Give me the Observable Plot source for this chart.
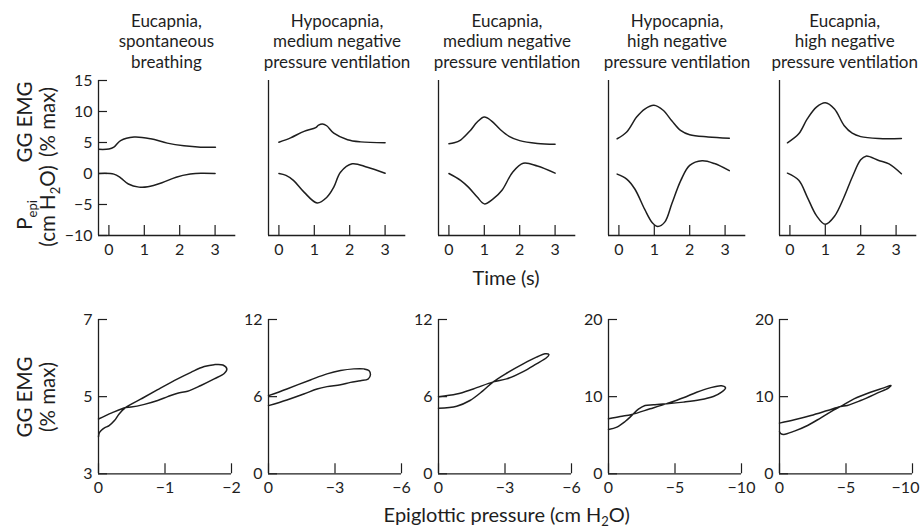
<!DOCTYPE html>
<html><head><meta charset="utf-8">
<script src="https://cdn.jsdelivr.net/npm/d3@7"></script>
<script src="https://cdn.jsdelivr.net/npm/@observablehq/plot@0.6"></script>
<style>
body{margin:0;background:#fff;}
#chart{position:relative;width:920px;height:530px;font-family:Lato,sans-serif;color:#222;}
#chart svg{position:absolute;}
</style></head><body><div id="chart"></div>
<script>
// ---------- data ----------
const titles = [
  ["Eucapnia,", "spontaneous", "breathing"],
  ["Hypocapnia,", "medium negative", "pressure ventilation"],
  ["Eucapnia,", "medium negative", "pressure ventilation"],
  ["Hypocapnia,", "high negative", "pressure ventilation"],
  ["Eucapnia,", "high negative", "pressure ventilation"]
];
const timeTicks = [0, 1, 2, 3];
const topValueTicks = [-10, -5, 0, 5, 10, 15];
const topTimeDomain = [-0.294, 3.585];
const topValueDomain = [-10, 15];

// GG EMG (% max) vs time (s)
const emg1 = [[-0.29,3.9],[0.0,3.95],[0.14,4.25],[0.33,5.3],[0.71,5.87],[1.18,5.6],[1.65,4.9],[2.12,4.47],[2.59,4.25],[3.01,4.25]];
const emg2 = [[0,5.05],[0.33,5.75],[0.71,6.8],[1.04,7.4],[1.12,7.8],[1.23,8.0],[1.35,7.7],[1.55,6.5],[1.94,5.45],[2.31,5.1],[3.0,4.95]];
const emg3 = [[0,4.8],[0.15,4.95],[0.33,5.4],[0.6,6.9],[0.8,8.3],[1.0,9.1],[1.2,8.5],[1.45,7.1],[1.7,6.0],[2.0,5.3],[2.5,4.85],[3.0,4.7]];
const emg4 = [[-0.05,5.6],[0.22,6.7],[0.5,9.1],[0.73,10.4],[0.99,11.0],[1.25,10.2],[1.5,8.45],[1.74,6.95],[2.0,6.25],[2.52,5.9],[3.12,5.7]];
const emg5 = [[-0.07,4.95],[0.25,6.4],[0.49,8.8],[0.75,10.7],[1.0,11.4],[1.26,10.4],[1.53,7.75],[1.76,6.5],[2.0,5.95],[2.51,5.65],[3.15,5.65]];
// Epiglottic pressure (cm H2O) vs time (s)
const pepi1 = [[-0.29,0],[0.14,-0.1],[0.33,-0.7],[0.55,-1.7],[0.85,-2.2],[1.1,-2.15],[1.5,-1.5],[1.9,-0.6],[2.3,-0.1],[2.6,0.05],[3.0,0.0]];
const pepi2 = [[0,0],[0.2,-0.3],[0.41,-1.1],[0.71,-3.0],[1.08,-4.75],[1.36,-3.8],[1.55,-2.2],[1.74,0.2],[2.07,1.56],[2.5,1.0],[3.0,0.05]];
const pepi3 = [[0,0],[0.33,-1.1],[0.55,-2.2],[0.8,-3.8],[1.0,-4.9],[1.25,-4.1],[1.5,-2.7],[1.8,0.2],[2.1,1.65],[2.5,1.2],[3.0,0.05]];
const pepi4 = [[-0.05,-0.1],[0.22,-0.9],[0.45,-2.5],[0.73,-5.8],[0.95,-8.0],[1.1,-8.55],[1.3,-7.8],[1.5,-4.8],[1.75,-1.1],[2.0,1.3],[2.35,2.05],[2.7,1.6],[3.12,0.45]];
const pepi5 = [[-0.07,0.05],[0.25,-1.1],[0.49,-3.8],[0.75,-6.8],[1.0,-8.2],[1.26,-6.9],[1.53,-3.8],[1.76,-0.6],[2.0,2.2],[2.15,2.8],[2.51,2.1],[2.8,1.55],[3.15,-0.05]];
const topEMG = [emg1, emg2, emg3, emg4, emg5];
const topPepi = [pepi1, pepi2, pepi3, pepi4, pepi5];

// GG EMG (% max) vs epiglottic pressure (cm H2O) loops
const loopXDomains = [[0,-2],[0,-6],[0,-6],[0,-10],[0,-10]];
const loopYDomains = [[3,7],[0,12],[0,12],[0,20],[0,20]];
const loopXTicks = [[0,-1,-2],[0,-3,-6],[0,-3,-6],[0,-5,-10],[0,-5,-10]];
const loopYTicks = [[3,5,7],[0,6,12],[0,6,12],[0,10,20],[0,10,20]];
const loop1 = [[0,3.96],[-0.01,4.05],[-0.04,4.12],[-0.09,4.19],[-0.16,4.25],[-0.24,4.38],[-0.31,4.55],[-0.41,4.72],[-0.64,4.94],[-0.89,5.18],[-1.19,5.46],[-1.39,5.63],[-1.59,5.78],[-1.74,5.83],[-1.87,5.82],[-1.93,5.72],[-1.89,5.6],[-1.74,5.46],[-1.54,5.29],[-1.34,5.14],[-1.19,5.09],[-1.04,5.0],[-0.89,4.9],[-0.69,4.8],[-0.49,4.73],[-0.41,4.72],[-0.2,4.58],[0,4.42]];
const loop2 = [[0,6.08],[-0.83,6.6],[-1.89,7.3],[-2.64,7.77],[-3.25,8.03],[-3.85,8.16],[-4.3,8.16],[-4.53,8.03],[-4.6,7.7],[-4.49,7.37],[-4.15,7.24],[-3.7,7.11],[-3.25,6.93],[-2.64,6.78],[-2.19,6.6],[-1.59,6.2],[-0.83,5.74],[0,5.3]];
const loop3 = [[0,5.1],[-0.82,5.26],[-1.42,5.7],[-2.0,6.45],[-2.47,7.15],[-3.07,7.82],[-3.82,8.55],[-4.42,9.07],[-4.8,9.33],[-4.98,9.27],[-4.87,9.02],[-4.42,8.55],[-3.82,7.95],[-3.07,7.38],[-2.47,7.15],[-1.57,6.6],[-0.82,6.2],[0,6.0]];
const loop4 = [[0,5.75],[-0.63,6.05],[-1.25,6.78],[-1.75,7.56],[-2.25,8.38],[-2.75,8.86],[-3.38,8.94],[-4.38,9.07],[-5.63,9.29],[-6.88,9.59],[-7.88,10.02],[-8.5,10.58],[-8.8,11.14],[-8.5,11.4],[-7.63,11.14],[-6.63,10.58],[-5.63,9.85],[-4.38,9.1],[-3.13,8.42],[-1.75,7.69],[-0.88,7.43],[0,7.13]];
const loop5 = [[0,5.45],[-0.1,5.2],[-0.32,5.1],[-1.12,5.53],[-2.11,6.26],[-3.11,7.26],[-4.1,8.29],[-4.6,8.73],[-5.6,9.72],[-6.84,10.58],[-7.84,11.14],[-8.38,11.45],[-8.21,11.14],[-7.34,10.45],[-6.1,9.5],[-5.1,8.86],[-4.6,8.73],[-3.61,8.21],[-2.36,7.56],[-1.12,7.0],[0,6.57]];
const loops = [loop1, loop2, loop3, loop4, loop5];

// ---------- layout / style ----------
const INK = "#1e1e1e";
const FONT = "Lato, sans-serif";
const chart = document.getElementById("chart");
const AX = [97.7, 268.3, 438.3, 608.3, 779];
const M = {l: 40, r: 14, t: 10, b: 34};
const fmt = d3.format("d");

function panel({xDomain, yDomain, xTicks, yTicks, showY, lines, left, top, fw, fh, lastDx = 0}) {
  const axisOpts = {tickSize: 0, tickPadding: 8, tickFormat: fmt, label: null};
  const svg = Plot.plot({
    width: fw + M.l + M.r, height: fh + M.t + M.b,
    marginLeft: M.l, marginRight: M.r, marginTop: M.t, marginBottom: M.b,
    style: {background: "transparent", fontFamily: FONT, fontSize: "16px", color: INK, overflow: "visible"},
    x: {domain: xDomain},
    y: {domain: yDomain, ticks: yTicks, tickSize: 0, tickPadding: 6, tickFormat: fmt, label: null, axis: showY ? "left" : null},
    marks: [
      Plot.axisX({...axisOpts, ticks: xTicks.slice(0, -1)}),
      Plot.axisX({...axisOpts, ticks: xTicks.slice(-1), dx: lastDx}),
      Plot.ruleX([xDomain[0]], {stroke: INK, strokeWidth: 1.3}),
      Plot.ruleY([yDomain[0]], {stroke: INK, strokeWidth: 1.3}),
      Plot.tickX(xTicks, {x: d => d, insetTop: fh - 10, stroke: INK, strokeWidth: 1.2}),
      showY ? Plot.tickY(yTicks, {y: d => d, insetRight: fw - 9, stroke: INK, strokeWidth: 1.2}) : null,
      ...lines.map(d => Plot.line(d, {curve: "catmull-rom", stroke: INK, strokeWidth: 1.5}))
    ]
  });
  svg.style.left = (left - M.l) + "px";
  svg.style.top = (top - M.t) + "px";
  chart.appendChild(svg);
}

for (let i = 0; i < 5; i++) {
  panel({xDomain: topTimeDomain, yDomain: topValueDomain, xTicks: timeTicks, yTicks: topValueTicks,
    showY: i === 0, lines: [topEMG[i], topPepi[i]], left: AX[i], top: 80, fw: 137.3, fh: 155});
  panel({xDomain: loopXDomains[i], yDomain: loopYDomains[i], xTicks: loopXTicks[i], yTicks: loopYTicks[i],
    showY: true, lines: [loops[i]], left: AX[i], top: 319, fw: 133, fh: 154.3, lastDx: i === 4 ? -7 : 0});
}

// ---------- titles and axis labels ----------
const ov = d3.create("svg").attr("width", 920).attr("height", 530)
  .style("left", "0px").style("top", "0px")
  .attr("font-family", FONT).attr("fill", INK);

titles.forEach((lines, i) => {
  const cx = AX[i] + 68.7 - (i === 4 ? 3 : 0);
  lines.forEach((s, j) => {
    ov.append("text").attr("x", cx).attr("y", 26.7 + j * 20.7)
      .attr("text-anchor", "middle").attr("font-size", 17).text(s);
  });
});

function rotLabel(x, y, build) {
  const t = ov.append("text").attr("transform", `translate(${x},${y}) rotate(-90)`)
    .attr("text-anchor", "middle").attr("font-size", 20.5);
  build(t);
}
// top row y labels
rotLabel(32, 122, t => t.text("GG EMG"));
rotLabel(55, 122, t => t.text("(% max)"));
rotLabel(32, 215, t => {
  t.append("tspan").text("P");
  t.append("tspan").attr("font-size", 13).attr("dy", 5).text("epi");
});
rotLabel(55, 206, t => {
  t.append("tspan").text("(cm H");
  t.append("tspan").attr("font-size", 13).attr("dy", 5).text("2");
  t.append("tspan").attr("dy", -5).text("O)");
});
// bottom row y labels
rotLabel(32, 397, t => t.text("GG EMG"));
rotLabel(55, 397, t => t.text("(% max)"));

// x labels
ov.append("text").attr("x", 506).attr("y", 285).attr("text-anchor", "middle")
  .attr("font-size", 20).text("Time (s)");
const xl = ov.append("text").attr("x", 506.7).attr("y", 522).attr("text-anchor", "middle").attr("font-size", 20);
xl.append("tspan").text("Epiglottic pressure (cm H");
xl.append("tspan").attr("font-size", 13).attr("dy", 4).text("2");
xl.append("tspan").attr("dy", -4).text("O)");

chart.appendChild(ov.node());
</script></body></html>
